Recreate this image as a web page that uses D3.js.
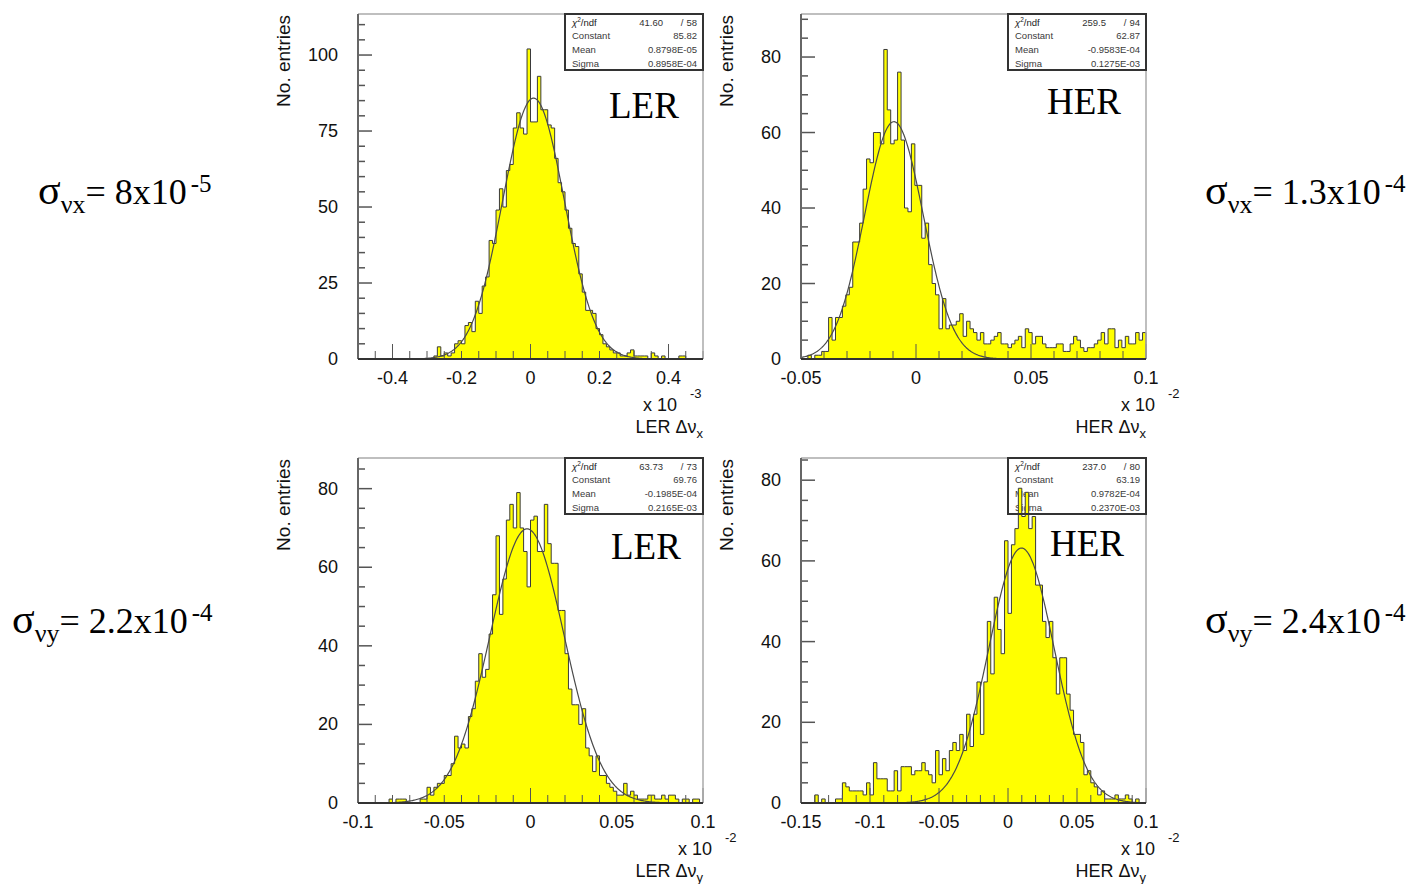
<!DOCTYPE html>
<html>
<head>
<meta charset="utf-8">
<script src="https://cdn.jsdelivr.net/npm/d3@7.9.0/dist/d3.min.js"></script>
<style>
body { margin: 0; background: #fff; }
svg { display: block; }
</style>
</head>
<body>
<svg width="1408" height="884"></svg>
<script>
// bin contents, 100 bins each
const lerXBins = [
  0,0,0,0,0,0,0,0,0,0,
  0,0,0,0,0,0,0,0,0,0,
  0,0,1,4,1,2,1,2,5,6,
  5,11,12,9,19,15,24,27,39,38,
  49,56,50,62,64,76,81,76,74,102,
  78,78,93,82,82,77,76,66,58,55,
  49,43,38,37,28,22,16,16,15,10,
  8,5,4,3,2,2,1,1,2,3,
  1,1,1,1,0,2,1,0,1,0,
  0,0,0,1,1,0,0,0,0,0];
const herXBins = [
  0,0,1,0,1,1,2,2,11,5,
  11,11,14,17,19,31,31,36,45,53,
  52,60,60,57,82,66,57,58,76,58,
  40,39,57,46,46,32,36,25,20,17,
  8,16,8,9,9,10,12,6,10,8,
  7,5,7,4,4,5,6,7,4,4,
  3,4,5,6,3,8,7,4,6,6,
  4,3,3,3,4,4,2,2,4,6,
  5,3,2,3,3,4,5,7,4,8,
  8,3,5,3,6,4,4,7,5,7];
const lerYBins = [
  0,0,0,0,0,0,0,0,0,1,
  0,1,1,1,0,0,0,0,1,1,
  4,2,4,5,5,7,7,10,17,14,
  15,14,22,24,31,38,32,34,43,53,
  68,48,57,72,76,70,79,70,64,55,
  72,73,64,64,76,66,61,61,49,49,
  38,29,25,25,20,24,14,12,8,12,
  7,7,5,4,3,2,2,5,2,3,
  2,1,1,1,2,2,1,1,2,1,
  2,2,1,0,1,1,0,1,1,0];
const herYBins = [
  0,0,0,0,2,0,1,0,0,0,
  1,1,5,4,3,3,3,3,2,5,
  2,10,6,6,6,3,3,8,3,9,
  9,9,7,8,8,10,8,7,5,13,
  7,11,8,13,15,13,17,13,22,14,
  22,30,17,30,45,32,51,43,37,65,
  47,64,68,78,71,77,68,71,54,54,
  45,41,45,36,27,36,36,27,23,17,
  17,15,7,8,5,4,2,3,1,1,
  1,2,1,1,2,1,0,1,0,0];

// axis ranges (in units of the axis exponent) and tick labels
const xRanges = [[-0.5, 0.5], [-0.05, 0.1], [-0.1, 0.1], [-0.15, 0.1]];
const xTickLabels = [
  [-0.4, -0.2, 0, 0.2, 0.4],
  [-0.05, 0, 0.05, 0.1],
  [-0.1, -0.05, 0, 0.05, 0.1],
  [-0.15, -0.1, -0.05, 0, 0.05, 0.1]];
const yTickLabels = [
  [0, 25, 50, 75, 100],
  [0, 20, 40, 60, 80],
  [0, 20, 40, 60, 80],
  [0, 20, 40, 60, 80]];
const xExponents = [-3, -2, -2, -2];
const ringNames = ["LER", "HER", "LER", "HER"];
const planes = ["x", "x", "y", "y"];

// gaussian fit results shown in the stat boxes
const chi2Values = ["41.60", "259.5", "63.73", "237.0"];
const ndfValues = ["58", "94", "73", "80"];
const fitConstants = ["85.82", "62.87", "69.76", "63.19"];
const fitMeans = ["0.8798E-05", "-0.9583E-04", "-0.1985E-04", "0.9782E-04"];
const fitSigmas = ["0.8958E-04", "0.1275E-03", "0.2165E-03", "0.2370E-03"];

// tune spread annotations
const spreadSubs = ["νx", "νx", "νy", "νy"];
const spreadMantissas = ["8x10", "1.3x10", "2.2x10", "2.4x10"];
const spreadExps = ["-5", "-4", "-4", "-4"];

const svg = d3.select("svg");
const sans = "'Liberation Sans', Arial, Helvetica, sans-serif";
const serif = "'Liberation Serif', 'Times New Roman', serif";
const plotW = 345, plotH = 345;

// layout of each pad
const panels = [
  { bins: lerXBins, left: 358, top: 14, yMax: 113.5, yMinor: 5, xMinor: 0.05, xLong: 0.4, expX: 643 },
  { bins: herXBins, left: 801, top: 14, yMax: 91.4, yMinor: 5, xMinor: 0.01, xLong: 0.05, expX: 1121 },
  { bins: lerYBins, left: 358, top: 458, yMax: 87.8, yMinor: 5, xMinor: 0.01, xLong: 0.1, expX: 678 },
  { bins: herYBins, left: 801, top: 458, yMax: 85.5, yMinor: 5, xMinor: 0.01, xLong: 0.05, expX: 1121 }
];

function multiples(lo, hi, step) {
  const out = [];
  for (let k = Math.ceil(lo / step - 1e-6); k <= Math.floor(hi / step + 1e-6); k++) out.push(k * step);
  return out;
}
function isMultiple(v, step) {
  return Math.abs(v / step - Math.round(v / step)) < 1e-6;
}

panels.forEach(function(p, idx) {
  const g = svg.append("g");
  const dom = xRanges[idx];
  const bottom = p.top + plotH;
  const x = d3.scaleLinear().domain(dom).range([p.left, p.left + plotW]);
  const y = d3.scaleLinear().domain([0, p.yMax]).range([bottom, p.top]);

  // stat box first: the histogram may run over its text
  const bw = 138, bh = 56;
  const bx = p.left + plotW - bw, by = p.top;
  const box = g.append("g");
  box.append("rect").attr("x", bx).attr("y", by).attr("width", bw).attr("height", bh).attr("fill", "#fff");
  const rows = ["", "Constant", "Mean", "Sigma"];
  const vals = ["", fitConstants[idx], fitMeans[idx], fitSigmas[idx]];
  rows.forEach(function(r, k) {
    const ty = by + 11.5 + k * 13.7;
    if (k === 0) {
      const t = box.append("text").attr("x", bx + 7).attr("y", ty)
        .attr("font-family", sans).attr("font-size", 9.5).attr("fill", "#222");
      t.append("tspan").attr("font-style", "italic").text("χ");
      t.append("tspan").attr("font-size", 6.5).attr("dy", -3.5).text("2");
      t.append("tspan").attr("dy", 3.5).text("/ndf");
      box.append("text").attr("x", bx + bw - 40).attr("y", ty).attr("text-anchor", "end")
        .attr("font-family", sans).attr("font-size", 9.5).attr("fill", "#333").text(chi2Values[idx]);
      box.append("text").attr("x", bx + bw - 21).attr("y", ty).attr("text-anchor", "middle")
        .attr("font-family", sans).attr("font-size", 9.5).attr("fill", "#333").text("/");
      box.append("text").attr("x", bx + bw - 6).attr("y", ty).attr("text-anchor", "end")
        .attr("font-family", sans).attr("font-size", 9.5).attr("fill", "#333").text(ndfValues[idx]);
    } else {
      box.append("text").attr("x", bx + 7).attr("y", ty)
        .attr("font-family", sans).attr("font-size", 9.5).attr("fill", "#3a3a3a").text(r);
      box.append("text").attr("x", bx + bw - 6).attr("y", ty).attr("text-anchor", "end")
        .attr("font-family", sans).attr("font-size", 9.5).attr("fill", "#3a3a3a").text(vals[k]);
    }
  });

  // histogram as a filled step outline
  const width = (dom[1] - dom[0]) / p.bins.length;
  const pts = [{ e: dom[0], v: 0 }]
    .concat(p.bins.map((v, i) => ({ e: dom[0] + i * width, v: v })))
    .concat([{ e: dom[1], v: p.bins[p.bins.length - 1] }, { e: dom[1], v: 0 }]);
  g.append("path")
    .attr("d", d3.area().x(d => x(d.e)).y0(bottom).y1(d => y(d.v)).curve(d3.curveStepAfter)(pts))
    .attr("fill", "#ffff00");
  g.append("path")
    .attr("d", d3.line().x(d => x(d.e)).y(d => y(d.v)).curve(d3.curveStepAfter)(pts))
    .attr("fill", "none").attr("stroke", "#3a3a3a").attr("stroke-width", 1);

  // gaussian fit from the stat box parameters
  const scale = Math.pow(10, xExponents[idx]);
  const c = +fitConstants[idx], m = +fitMeans[idx] / scale, s = +fitSigmas[idx] / scale;
  const xs = d3.range(401).map(k => dom[0] + (dom[1] - dom[0]) * k / 400);
  g.append("path")
    .attr("d", d3.line().x(v => x(v)).y(v => y(c * Math.exp(-0.5 * Math.pow((v - m) / s, 2))))(xs))
    .attr("fill", "none").attr("stroke", "#4a4a4a").attr("stroke-width", 1.2);

  // ticks
  multiples(dom[0], dom[1], p.xMinor).forEach(function(v) {
    const len = isMultiple(v, p.xLong) ? 15 : 8;
    g.append("line").attr("x1", x(v)).attr("x2", x(v)).attr("y1", bottom).attr("y2", bottom - len)
      .attr("stroke", "#555").attr("stroke-width", 1);
  });
  const yStep = yTickLabels[idx][1];
  multiples(0, p.yMax, p.yMinor).forEach(function(v) {
    const len = isMultiple(v, yStep) ? 14 : 7;
    g.append("line").attr("x1", p.left).attr("x2", p.left + len).attr("y1", y(v)).attr("y2", y(v))
      .attr("stroke", "#555").attr("stroke-width", 1.5);
  });

  // frame
  g.append("line").attr("x1", p.left).attr("x2", p.left + plotW).attr("y1", p.top).attr("y2", p.top)
    .attr("stroke", "#aaa").attr("stroke-width", 1.5);
  g.append("line").attr("x1", p.left + plotW).attr("x2", p.left + plotW).attr("y1", p.top).attr("y2", bottom)
    .attr("stroke", "#aaa").attr("stroke-width", 1.5);
  g.append("line").attr("x1", p.left).attr("x2", p.left).attr("y1", p.top).attr("y2", bottom)
    .attr("stroke", "#666").attr("stroke-width", 2);
  g.append("line").attr("x1", p.left).attr("x2", p.left + plotW).attr("y1", bottom).attr("y2", bottom)
    .attr("stroke", "#333").attr("stroke-width", 2);

  // stat box border on top
  g.append("rect").attr("x", bx).attr("y", by).attr("width", bw).attr("height", bh)
    .attr("fill", "none").attr("stroke", "#333").attr("stroke-width", 2);

  // tick labels
  xTickLabels[idx].forEach(function(v) {
    g.append("text").attr("x", x(v)).attr("y", bottom + 25).attr("text-anchor", "middle")
      .attr("font-family", sans).attr("font-size", 18).attr("fill", "#111").text(v === 0 ? "0" : String(v));
  });
  yTickLabels[idx].forEach(function(v) {
    g.append("text").attr("x", p.left - 20).attr("y", y(v) + 6).attr("text-anchor", "end")
      .attr("font-family", sans).attr("font-size", 18).attr("fill", "#111").text(String(v));
  });

  // exponent and axis titles
  g.append("text").attr("x", p.expX).attr("y", bottom + 52)
    .attr("font-family", sans).attr("font-size", 18).attr("fill", "#111").text("x 10");
  g.append("text").attr("x", p.expX + 47).attr("y", bottom + 39)
    .attr("font-family", sans).attr("font-size", 13).attr("fill", "#111").text(String(xExponents[idx]));
  const xt = g.append("text").attr("x", p.left + plotW).attr("y", bottom + 74).attr("text-anchor", "end")
    .attr("font-family", sans).attr("font-size", 18).attr("fill", "#111");
  xt.append("tspan").text(ringNames[idx] + " Δν");
  xt.append("tspan").attr("font-size", 13).attr("dy", 5).text(planes[idx]);
  g.append("text")
    .attr("transform", `translate(${p.left - 68},${p.top + 1}) rotate(-90)`)
    .attr("text-anchor", "end")
    .attr("font-family", sans).attr("font-size", 19).attr("fill", "#111").text("No. entries");

  // ring label inside the pad
  const ringX = [609, 1047, 611, 1050][idx];
  const ringY = [118, 114, 559, 556][idx];
  g.append("text").attr("x", ringX).attr("y", ringY)
    .attr("font-family", serif).attr("font-size", 37).attr("fill", "#000").text(ringNames[idx]);
});

// tune spread annotations beside the pads
const notePos = [[38, 204], [1205, 204], [12, 633], [1205, 633]];
notePos.forEach(function(pos, k) {
  const t = svg.append("text").attr("x", pos[0]).attr("y", pos[1])
    .attr("font-family", serif).attr("font-size", 36).attr("fill", "#000");
  t.append("tspan").attr("font-size", 42).text("σ");
  t.append("tspan").attr("font-size", 26).attr("dy", 9).text(spreadSubs[k]);
  t.append("tspan").attr("dy", -9).text("= " + spreadMantissas[k]);
  t.append("tspan").attr("font-size", 25).attr("dx", 4).attr("dy", -12).text(spreadExps[k]);
});
</script>
</body>
</html>
